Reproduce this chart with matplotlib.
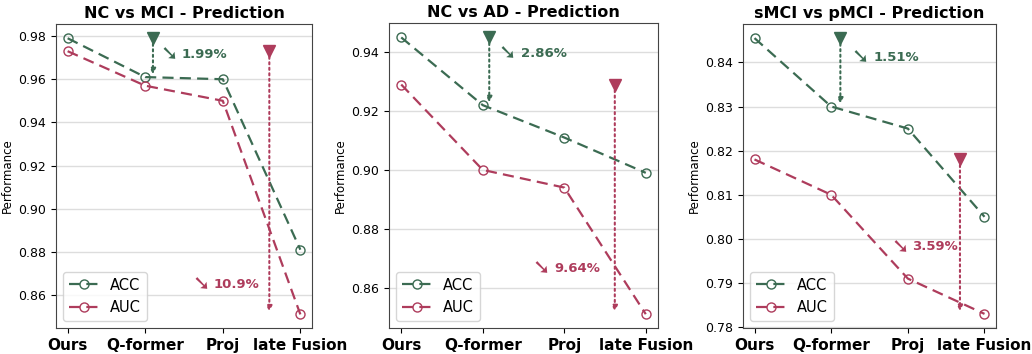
import matplotlib
matplotlib.use("Agg")
import matplotlib.pyplot as plt

methods = ["Ours", "Q-former", "Proj", "late Fusion"]
titles = ["NC vs MCI - Prediction", "NC vs AD - Prediction", "sMCI vs pMCI - Prediction"]
acc_nc_mci = [0.979, 0.961, 0.960, 0.881]
auc_nc_mci = [0.973, 0.957, 0.950, 0.851]
acc_nc_ad = [0.945, 0.922, 0.911, 0.899]
auc_nc_ad = [0.929, 0.900, 0.894, 0.851]
acc_smci = [0.8455, 0.830, 0.825, 0.805]
auc_smci = [0.818, 0.810, 0.791, 0.783]
acc_drop = ["1.99%", "2.86%", "1.51%"]
auc_drop = ["10.9%", "9.64%", "3.59%"]

GREEN = "#3b6b52"
RED = "#ae3c5c"

acc_all = [acc_nc_mci, acc_nc_ad, acc_smci]
auc_all = [auc_nc_mci, auc_nc_ad, auc_smci]

fig = plt.figure(figsize=(10.32, 3.54), dpi=100)
W, H = 1032, 354
boxes = [(56, 24, 312, 328), (389, 23, 658, 328), (743, 24, 996, 328)]
yticks = [[0.86, 0.88, 0.90, 0.92, 0.94, 0.96, 0.98],
          [0.86, 0.88, 0.90, 0.92, 0.94],
          [0.78, 0.79, 0.80, 0.81, 0.82, 0.83, 0.84]]
ylims = [(0.8447, 0.9856), (0.8463, 0.9499), (0.7798, 0.8487)]
green_arrow_x = [1.1, 1.08, 1.12]
red_arrow_x = [2.6, 2.62, 2.68]
# (glyph x, number x, y)
green_txt = [(1.19, 1.47, 0.9715), (1.19, 1.47, 0.9395), (1.27, 1.55, 0.8411)]
red_txt = [(1.61, 1.875, 0.8650), (1.61, 1.88, 0.8665), (1.79, 2.06, 0.7982)]

x = list(range(len(methods)))
for i in range(3):
    l, t, r, b = boxes[i]
    ax = fig.add_axes([l / W, 1 - b / H, (r - l) / W, (b - t) / H])
    acc, auc = acc_all[i], auc_all[i]
    ax.plot(x, acc, linestyle="--", color=GREEN, marker="o", markerfacecolor="none",
            markersize=6.5, lw=1.6, label="ACC", dashes=(5, 2.8))
    ax.plot(x, auc, linestyle="--", color=RED, marker="o", markerfacecolor="none",
            markersize=6.5, lw=1.6, label="AUC", dashes=(5, 2.8))
    # arrows
    gx = green_arrow_x[i]
    ax.annotate("", xy=(gx, acc[1]), xytext=(gx, acc[0]),
                arrowprops=dict(arrowstyle="-|>", linestyle=":", lw=1.5, color=GREEN,
                                mutation_scale=8, shrinkA=0, shrinkB=2))
    ax.plot([gx], [acc[0]], marker="v", color=GREEN, markersize=8, linestyle="none")
    rx = red_arrow_x[i]
    ax.annotate("", xy=(rx, auc[3]), xytext=(rx, auc[0]),
                arrowprops=dict(arrowstyle="-|>", linestyle=":", lw=1.5, color=RED,
                                mutation_scale=8, shrinkA=0, shrinkB=2))
    ax.plot([rx], [auc[0]], marker="v", color=RED, markersize=8, linestyle="none")
    gxg, gxn, gy = green_txt[i]
    ax.text(gxg, gy, "\u2798", color=GREEN, fontsize=15, fontweight="bold",
            ha="left", va="center")
    ax.text(gxn, gy, acc_drop[i], color=GREEN, fontsize=9.5, fontweight="bold",
            ha="left", va="center")
    rxg, rxn, ry = red_txt[i]
    ax.text(rxg, ry, "\u2798", color=RED, fontsize=15, fontweight="bold",
            ha="left", va="center")
    ax.text(rxn, ry, auc_drop[i], color=RED, fontsize=9.5, fontweight="bold",
            ha="left", va="center")

    ax.set_xlim(-0.15, 3.15)
    ax.set_ylim(*ylims[i])
    ax.set_yticks(yticks[i])
    ax.set_yticklabels([f"{v:.2f}" for v in yticks[i]])
    ax.set_xticks(x)
    ax.set_xticklabels(methods, fontsize=11, fontweight="bold")
    ax.tick_params(axis="y", labelsize=9)
    ax.set_ylabel("Performance", fontsize=8.5, labelpad=3)
    ax.set_title(titles[i], fontsize=11.5, fontweight="bold", pad=4)
    ax.yaxis.grid(True, color="#dddddd", lw=1)
    ax.set_axisbelow(True)
    for s in ax.spines.values():
        s.set_color("#444444")
    ax.legend(loc="lower left", fontsize=10.5, handlelength=2.0)

fig.savefig("out.png", dpi=100)
